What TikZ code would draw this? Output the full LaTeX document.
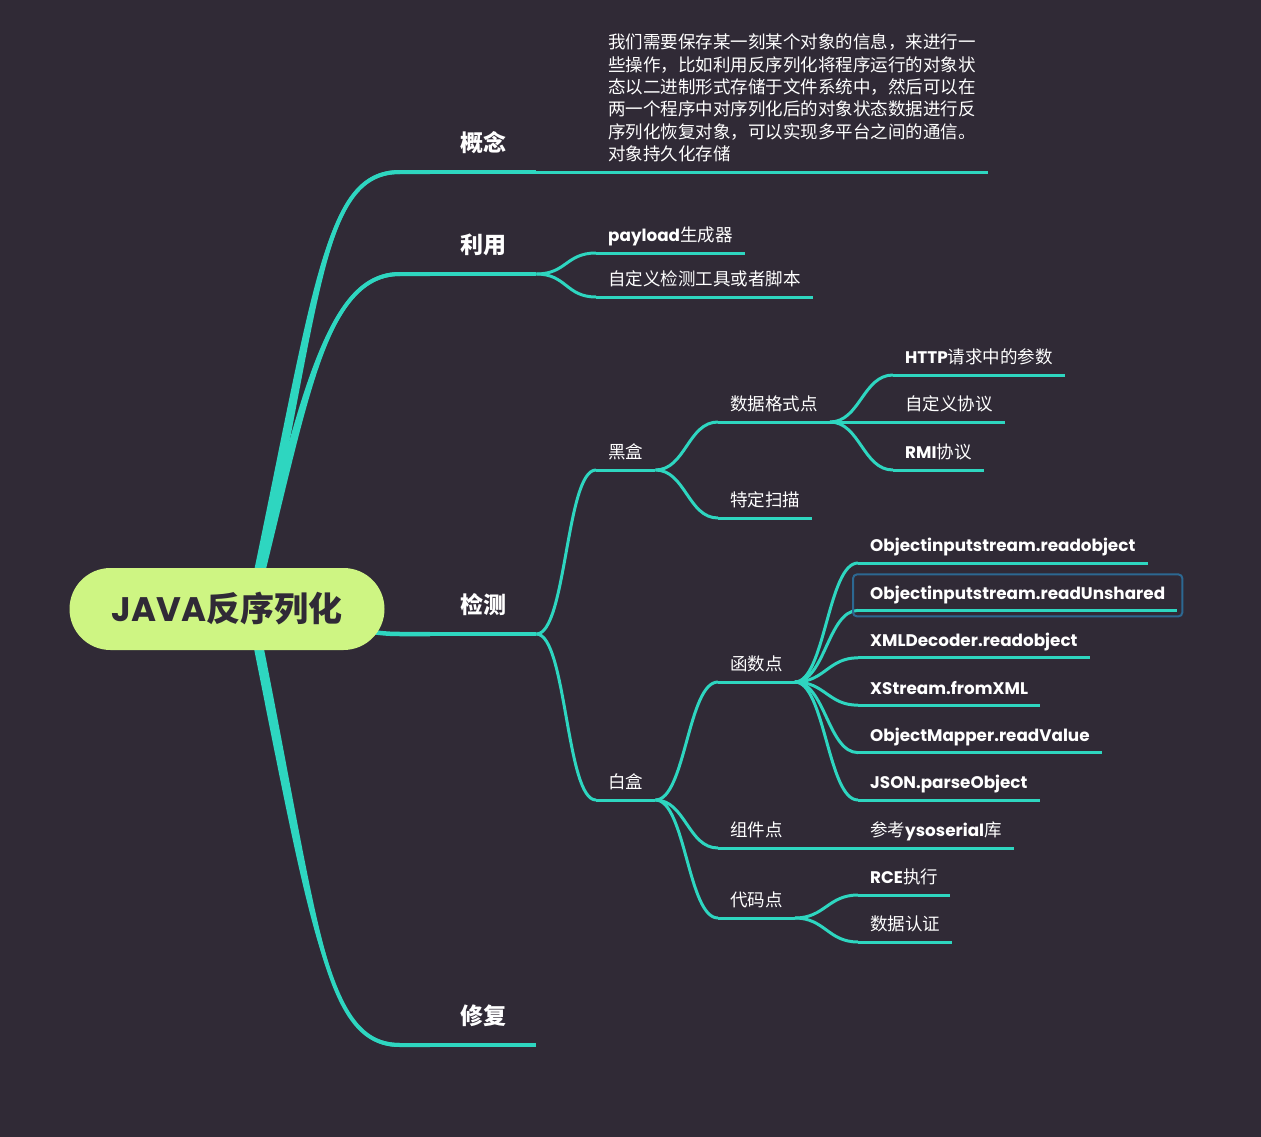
\documentclass[tikz,border=0pt]{standalone}
\usepackage{fontspec}
\setmainfont{Poppins}
\newfontfamily\cjk{Noto Sans CJK SC}
\usepackage{tikz}

\definecolor{canvas}{RGB}{48,42,54}
\definecolor{mintline}{RGB}{46,214,192}
\definecolor{rootfill}{RGB}{206,245,131}
\definecolor{selblue}{RGB}{44,104,146}

\newcommand\zh[1]{{\cjk\mdseries\fontsize{17.5}{22.4}\selectfont #1}}
\newcommand\zhb[1]{{\cjk\bfseries #1}}
% tapered main branch from the hub to a main topic
\newcommand\trunk[3]{%
  \fill[mintline] ([xshift=-5pt]hub) .. controls +(#2) and +(#3,0) .. ([xshift=-30pt,yshift=2pt]#1.south west)
    -- ([xshift=-30pt,yshift=-2pt]#1.south west) .. controls +(#3,0) and +(#2) .. ([xshift=5pt]hub) -- cycle;
  \draw[link, line width=4pt] (hub) .. controls +(#2) and +(#3,0) .. ([xshift=-30pt]#1.south west) -- (#1.south west);}

\tikzset{
  topic/.style={anchor=south west, inner xsep=12pt, inner ysep=0pt, text depth=11pt,
                text=white, font=\fontsize{16.8}{22.4}\selectfont\bfseries},
  maintopic/.style={topic, inner xsep=30pt, text depth=20pt,
                font=\fontsize{23}{28}\selectfont\bfseries},
  rootnode/.style={rounded corners=41pt, minimum width=315pt, minimum height=82pt,
                fill=rootfill, text=canvas, font=\fontsize{34}{40}\selectfont\bfseries},
  link/.style={draw=mintline, line width=3pt, line join=round},
  scurve/.style={to path={.. controls +(30,0) and +(-30,0) .. (\tikztotarget)}},
  selbox/.style={draw=selblue, line width=2pt, rounded corners=4pt},
}

\begin{document}
\begin{tikzpicture}[x=1pt, y=-1pt]
    \path[use as bounding box, fill=canvas] (0,0) rectangle (1261,1137);
    \coordinate (hub) at (251,609);

    % main topics ------------------------------------------------------
    \node[maintopic] (gn) at (430,172)  {\zhb{概念}};
    \node[maintopic] (ly) at (430,274)  {\zhb{利用}};
    \node[maintopic] (jc) at (430,634)  {\zhb{检测}};
    \node[maintopic] (xf) at (430,1045) {\zhb{修复}};

    % second level -----------------------------------------------------
    \node[topic, align=left, font=\fontsize{17.5}{22.4}\selectfont\cjk\mdseries] (cn) at (596,172)
        {我们需要保存某一刻某个对象的信息，来进行一\\
         些操作，比如利用反序列化将程序运行的对象状\\
         态以二进制形式存储于文件系统中，然后可以在\\
         两一个程序中对序列化后的对象状态数据进行反\\
         序列化恢复对象，可以实现多平台之间的通信。\\
         对象持久化存储};
    \node[topic] (py) at (596,253) {payload\zh{生成器}};
    \node[topic] (zd) at (596,297) {\zh{自定义检测工具或者脚本}};
    \node[topic] (hh) at (596,470) {\zh{黑盒}};
    \node[topic] (bh) at (596,800) {\zh{白盒}};

    % third level ------------------------------------------------------
    \node[topic] (sj) at (718,422) {\zh{数据格式点}};
    \node[topic] (td) at (718,518) {\zh{特定扫描}};
    \node[topic] (hs) at (718,682) {\zh{函数点}};
    \node[topic] (zj) at (718,848) {\zh{组件点}};
    \node[topic] (dm) at (718,918) {\zh{代码点}};

    % leaves -----------------------------------------------------------
    \node[topic] (ht) at (893,375) {HTTP\zh{请求中的参数}};
    \node[topic] (zx) at (893,422) {\zh{自定义协议}};
    \node[topic] (rm) at (893,470) {RMI\zh{协议}};
    \foreach \txt [count=\i] in {Objectinputstream.readobject, Objectinputstream.readUnshared,
        XMLDecoder.readobject, XStream.fromXML, ObjectMapper.readValue, JSON.parseObject}
        \node[topic] (f\i) at (858,{515.6+47.4*\i}) {\txt};
    \node[topic] (ys) at (858,848) {\zh{参考}ysoserial\zh{库}};
    \node[topic] (rc) at (858,895) {RCE\zh{执行}};
    \node[topic] (sr) at (858,942) {\zh{数据认证}};

    % underlines and connectors ----------------------------------------
    \foreach \n in {gn,ly,jc,xf}
        \draw[link, line width=3.5pt] (\n.south west) -- (\n.south east);
    \foreach \n in {cn,py,zd,hh,bh,sj,td,hs,zj,dm,ht,zx,rm,f1,f2,f3,f4,f5,f6,ys,rc,sr}
        \draw[link] (\n.south west) -- (\n.south east);
    \draw[link] (gn.south east) to[scurve] (cn.south west);
    \draw[link] (ly.south east) to[scurve] (py.south west);
    \draw[link] (ly.south east) to[scurve] (zd.south west);
    \draw[link] (jc.south east) to[scurve] (hh.south west);
    \draw[link] (jc.south east) to[scurve] (bh.south west);
    \draw[link] (hh.south east) to[scurve] (sj.south west);
    \draw[link] (hh.south east) to[scurve] (td.south west);
    \draw[link] (sj.south east) to[scurve] (ht.south west);
    \draw[link] (sj.south east) to[scurve] (zx.south west);
    \draw[link] (sj.south east) to[scurve] (rm.south west);
    \draw[link] (bh.south east) to[scurve] (hs.south west);
    \draw[link] (bh.south east) to[scurve] (zj.south west);
    \draw[link] (bh.south east) to[scurve] (dm.south west);
    \foreach \i in {1,...,6}
        \draw[link] (hs.south east) to[scurve] (f\i.south west);
    \draw[link] (zj.south east) to[scurve] (ys.south west);
    \draw[link] (dm.south east) to[scurve] (rc.south west);
    \draw[link] (dm.south east) to[scurve] (sr.south west);
    \draw[selbox] ([xshift=-5pt,yshift=36pt]f2.south west) rectangle ([xshift=5pt,yshift=-6pt]f2.south east);

    % main branches from the root --------------------------------------
    \trunk{gn}{68,-319}{-78}
    \trunk{ly}{53,-209}{-75}
    \trunk{xf}{65,321}{-75}
    \draw[link, line width=4.5pt] (hub) .. controls +(80,0) and +(-60,0) .. ([xshift=-30pt]jc.south west) -- (jc.south west);

    \node[rootnode] (rt) at (227,609) {JAVA\zhb{反序列化}};
\end{tikzpicture}
\end{document}
